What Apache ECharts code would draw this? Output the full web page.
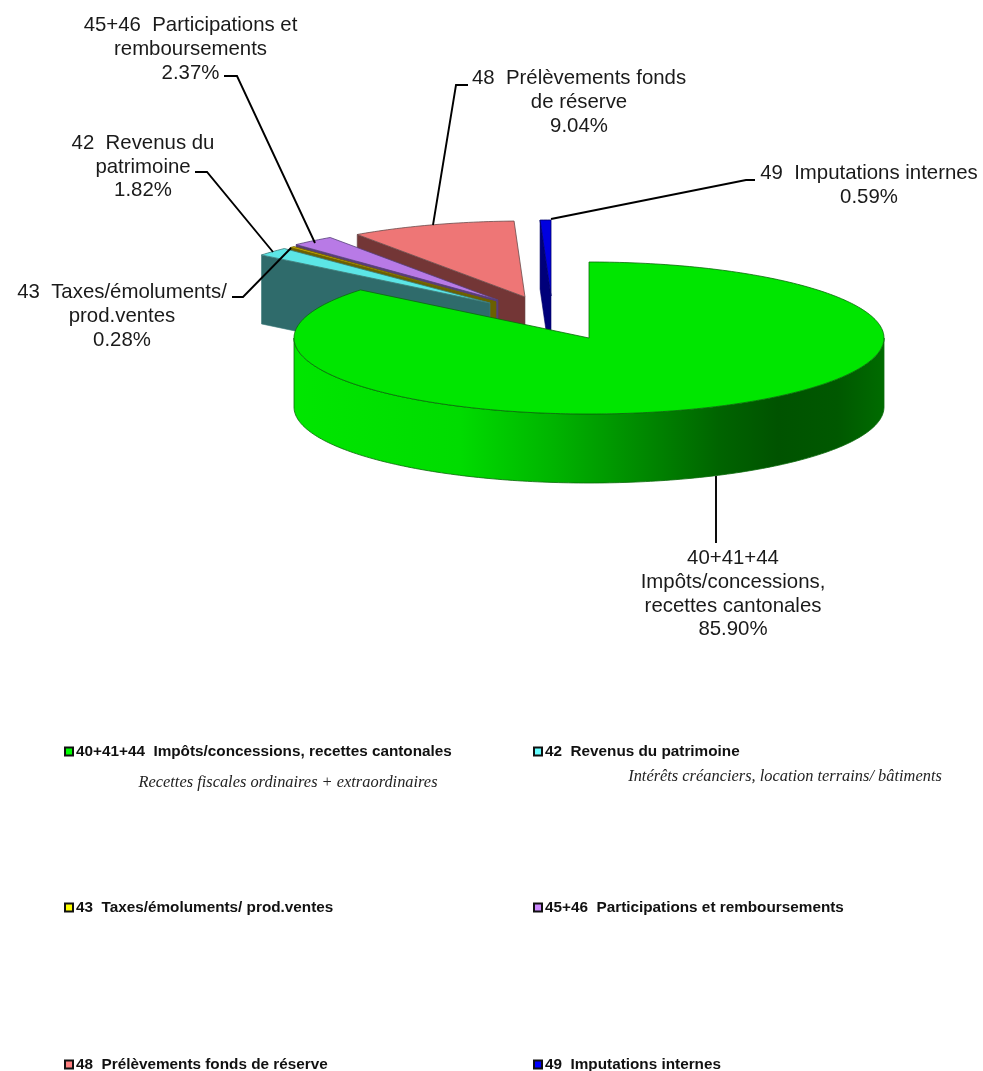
<!DOCTYPE html>
<html>
<head>
<meta charset="utf-8">
<title>Revenus</title>
<script src="https://cdn.jsdelivr.net/npm/echarts@6/dist/echarts.min.js"></script>
<style>
  html, body { margin: 0; padding: 0; background: #fff; }
  #chart { width: 983px; height: 1071px; }
</style>
</head>
<body>
<div id="chart"></div>
<script>
// slices, clockwise from 12 o'clock
var categories = [
  "40+41+44  Impôts/concessions, recettes cantonales",
  "42  Revenus du patrimoine",
  "43  Taxes/émoluments/ prod.ventes",
  "45+46  Participations et remboursements",
  "48  Prélèvements fonds de réserve",
  "49  Imputations internes"
];
var values = [85.9, 1.82, 0.28, 2.37, 9.04, 0.59];
var calloutLines = [
  ["40+41+44", "Impôts/concessions,", "recettes cantonales", "85.90%"],
  ["42  Revenus du", "patrimoine", "1.82%"],
  ["43  Taxes/émoluments/", "prod.ventes", "0.28%"],
  ["45+46  Participations et", "remboursements", "2.37%"],
  ["48  Prélèvements fonds", "de réserve", "9.04%"],
  ["49  Imputations internes", "0.59%"]
];
var notes = ["Recettes fiscales ordinaires + extraordinaires", "Intérêts créanciers, location terrains/ bâtiments"];

// look of the slices
var legendColors = ["#00ff00", "#66ffff", "#ffff00", "#cc88ff", "#ff8080", "#0000ff"];
var topColors = ["#00e600", "#5ce6e6", "#c8a800", "#b87ae6", "#ee7676", "#0000e0"];
var faceColors = ["#005500", "#2f6b6b", "#6b6000", "#5a3c78", "#733636", "#00007a"];
var lineColors = ["#0a6a0a", "#3c7a7a", "#6b6000", "#55407a", "#6a4a4a", "#00006a"];

// pie geometry, in page pixels (the hidden axes run 0-983 and 0-1071)
var cx = 589, cy = 338, rx = 295, ry = 76, depth = 69;
var explode = [[0, 0], [-99, -35], [-93, -36], [-91, -38], [-64, -41], [-38, -42]];

// callout placing: text centre x, first line y, then the leader
var calloutText = [[733, 547], [143, 131.5], [122, 281], [190.5, 14], [579, 67], [869, 162]];
var calloutLeader = [
  [[716, 476], [716, 543]],
  [[273, 252], [207, 172], [195, 172]],
  [[291, 248], [243, 297], [232, 297]],
  [[315, 243], [237, 76], [224, 76]],
  [[433, 225], [456, 85], [468, 85]],
  [[551, 219], [746, 180], [755, 180]]
];
var legendPos = [[64, 744], [533, 744], [64, 900], [533, 900], [64, 1057], [533, 1057]];
var notePos = [[288, 783], [785, 777]];

var total = values.reduce(function (a, b) { return a + b; }, 0);
var starts = [];
values.reduce(function (sum, v, i) { starts[i] = sum / total * 360; return sum + v; }, 0);

function rimPoint(i, deg, drop) {
  var a = deg * Math.PI / 180;
  return [cx + explode[i][0] + rx * Math.sin(a), cy + explode[i][1] - ry * Math.cos(a) + (drop || 0)];
}
function arc(i, from, to, drop) {
  var pts = [], n = Math.max(2, Math.ceil(Math.abs(to - from)));
  for (var k = 0; k <= n; k++) pts.push(rimPoint(i, from + (to - from) * k / n, drop));
  return pts;
}

function renderSlice(i) {
  return function (params, api) {
    var sweep = api.value(0) / total * 360;
    var start = starts[i], end = start + sweep;
    var apex = [cx + explode[i][0], cy + explode[i][1]];
    var toPx = function (p) { return api.coord(p); };
    var children = [];

    if (i === 0) {
      // the big slice shows its rounded front wall
      var wall = arc(i, 90, 270, 0).concat(arc(i, 270, 90, depth));
      children.push({
        type: "polygon",
        shape: { points: wall.map(toPx) },
        style: {
          fill: new echarts.graphic.LinearGradient(0, 0, 1, 0, [
            { offset: 0, color: "#00e600" },
            { offset: 0.28, color: "#00dc00" },
            { offset: 0.44, color: "#00b400" },
            { offset: 0.58, color: "#008c00" },
            { offset: 0.72, color: "#006400" },
            { offset: 0.82, color: "#005300" },
            { offset: 0.92, color: "#005800" },
            { offset: 1, color: "#006c00" }
          ]),
          stroke: lineColors[i],
          lineWidth: 0.8
        }
      });
    } else {
      // the others show the flat cut face of their first edge
      var rim = rimPoint(i, start);
      var face = [rim, apex, [apex[0], apex[1] + depth], [rim[0], rim[1] + depth]];
      children.push({
        type: "polygon",
        shape: { points: face.map(toPx) },
        style: { fill: faceColors[i], stroke: lineColors[i], lineWidth: 0.6 }
      });
    }

    var top = [apex].concat(arc(i, start, end, 0));
    children.push({
      type: "polygon",
      shape: { points: top.map(toPx) },
      style: { fill: topColors[i], stroke: lineColors[i], lineWidth: 0.8 }
    });
    return { type: "group", children: children };
  };
}

// far slices first so the nearer ones cover them
var drawOrder = [5, 4, 3, 2, 1, 0];
var series = drawOrder.map(function (i) {
  return {
    type: "custom",
    name: categories[i],
    coordinateSystem: "cartesian2d",
    silent: true,
    clip: false,
    itemStyle: { color: legendColors[i] },
    renderItem: renderSlice(i),
    data: [[values[i]]]
  };
});

var legends = categories.map(function (name, i) {
  return {
    left: legendPos[i][0],
    top: legendPos[i][1],
    padding: 0,
    selectedMode: false,
    itemWidth: 8,
    itemHeight: 8,
    icon: "rect",
    itemStyle: { borderColor: "#111", borderWidth: 2 },
    textStyle: {
      fontFamily: "Liberation Sans",
      fontWeight: "bold",
      fontSize: 15.3,
      color: "#111",
      padding: [0, 0, 0, -2]
    },
    data: [{ name: name, itemStyle: { color: legendColors[i] } }]
  };
});

var graphics = [];
calloutLines.forEach(function (lines, i) {
  graphics.push({
    type: "polyline",
    shape: { points: calloutLeader[i] },
    style: { fill: null, stroke: "#000", lineWidth: 1.9 },
    z: 20
  });
  graphics.push({
    type: "text",
    x: calloutText[i][0],
    y: calloutText[i][1],
    z: 21,
    style: {
      text: lines.join("\n"),
      fill: "#1a1a1a",
      font: "20.4px 'Liberation Sans'",
      align: "center",
      verticalAlign: "top",
      lineHeight: 23.6
    }
  });
});
notes.forEach(function (t, i) {
  graphics.push({
    type: "text",
    x: notePos[i][0],
    y: notePos[i][1],
    style: {
      text: t,
      fill: "#222",
      font: "italic 16.4px 'Liberation Serif'",
      align: "center",
      verticalAlign: "middle"
    }
  });
});

var chart = echarts.init(document.getElementById("chart"), null, { renderer: "canvas" });
chart.setOption({
  animation: false,
  backgroundColor: "#fff",
  tooltip: { show: false },
  grid: { left: 0, right: 0, top: 0, bottom: 0 },
  xAxis: { type: "value", min: 0, max: 983, show: false },
  yAxis: { type: "value", min: 0, max: 1071, inverse: true, show: false },
  legend: legends,
  series: series,
  graphic: graphics
});
</script>
</body>
</html>
